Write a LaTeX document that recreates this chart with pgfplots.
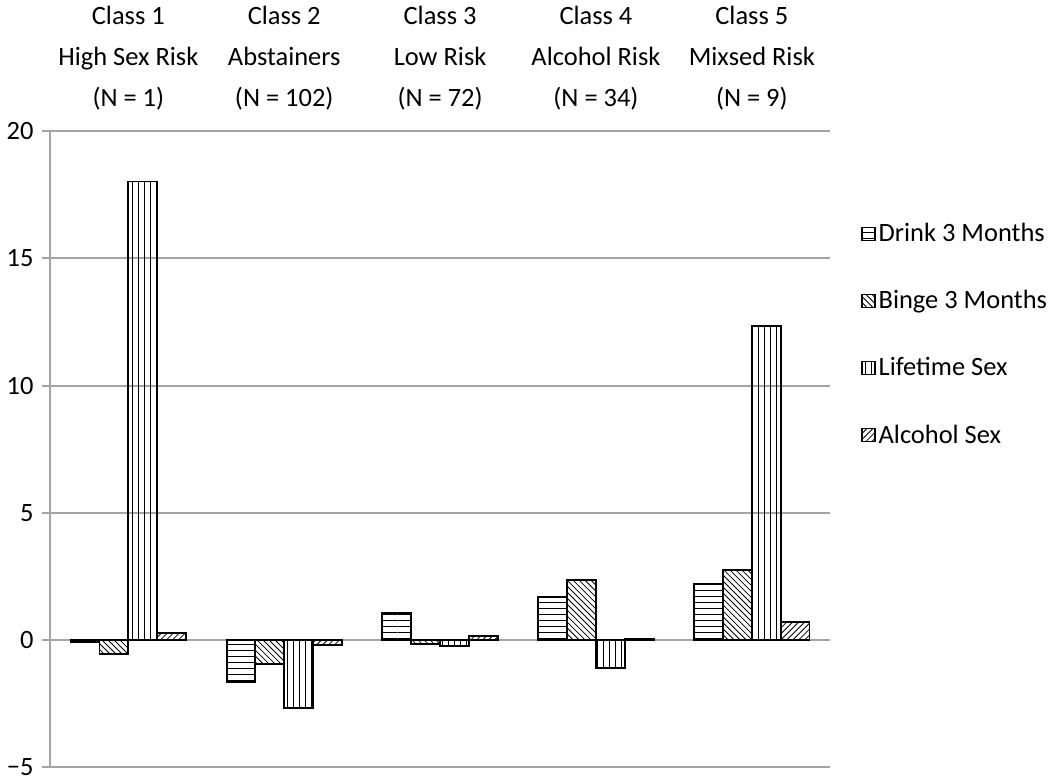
\documentclass[border=0pt]{standalone}
\usepackage{pgfplots}
\pgfplotsset{compat=1.18}
\usetikzlibrary{patterns}
\usepackage{fontspec}
\setmainfont{Carlito}
\definecolor{gridgray}{RGB}{165,165,165}

\begin{document}
\begin{tikzpicture}
\begin{axis}[
    scale only axis,
    width=392pt, height=320pt,
    ybar=0pt, bar width=14.5pt,
    xmin=-0.5, xmax=4.5,
    ymin=-5, ymax=20,
    ytick={-5,0,5,10,15,20},
    yticklabels={−5,0,5,10,15,20},
    axis x line=none,
    axis y line*=left,
    y axis line style={gridgray, line width=1pt},
    ymajorgrids,
    grid style={gridgray, line width=1pt},
    tick align=outside,
    major tick length=4pt,
    y tick style={gridgray, line width=1pt},
    tick label style={font=\fontsize{13.3}{15}\selectfont},
    yticklabel style={xshift=-1pt},
    every axis plot/.append style={draw=black, line width=1pt},
    legend image code/.code={\draw[#1, line width=0.7pt] (0pt,-3pt) rectangle (6.5pt,3.5pt);},
    legend style={draw=none, fill=none, inner sep=0pt,
        at={(1.04,0.86)}, anchor=north west,
        font=\fontsize{13.3}{15}\selectfont,
        row sep=20pt,
        nodes={inner sep=1.5pt}},
    legend cell align=left,
    clip=false,
]
% Drink 3 Months
\addplot[pattern=horizontal lines] coordinates {(0,-0.06) (1,-1.63) (2,1.07) (3,1.70) (4,2.22)};
\addlegendentry{Drink 3 Months}
% Binge 3 Months
\addplot[pattern=north west lines] coordinates {(0,-0.53) (1,-0.95) (2,-0.15) (3,2.38) (4,2.77)};
\addlegendentry{Binge 3 Months}
% Lifetime Sex
\addplot[pattern=vertical lines] coordinates {(0,18.02) (1,-2.65) (2,-0.24) (3,-1.10) (4,12.35)};
\addlegendentry{Lifetime Sex}
% Alcohol Sex
\addplot[pattern=north east lines] coordinates {(0,0.26) (1,-0.20) (2,0.15) (3,0.05) (4,0.72)};
\addlegendentry{Alcohol Sex}

\foreach \i/\lab in {0/{Class 1\\High Sex Risk\\(N = 1)},
                     1/{Class 2\\Abstainers\\(N = 102)},
                     2/{Class 3\\Low Risk\\(N = 72)},
                     3/{Class 4\\Alcohol Risk\\(N = 34)},
                     4/{Class 5\\Mixsed Risk\\(N = 9)}} {
    \edef\temp{\noexpand\node[anchor=south, align=center, yshift=7pt,
        font=\noexpand\fontsize{13.3}{20.5}\noexpand\selectfont]
        at (axis cs:\i,20) {\unexpanded\expandafter{\lab}};}
    \temp
}
\end{axis}
\end{tikzpicture}
\end{document}
